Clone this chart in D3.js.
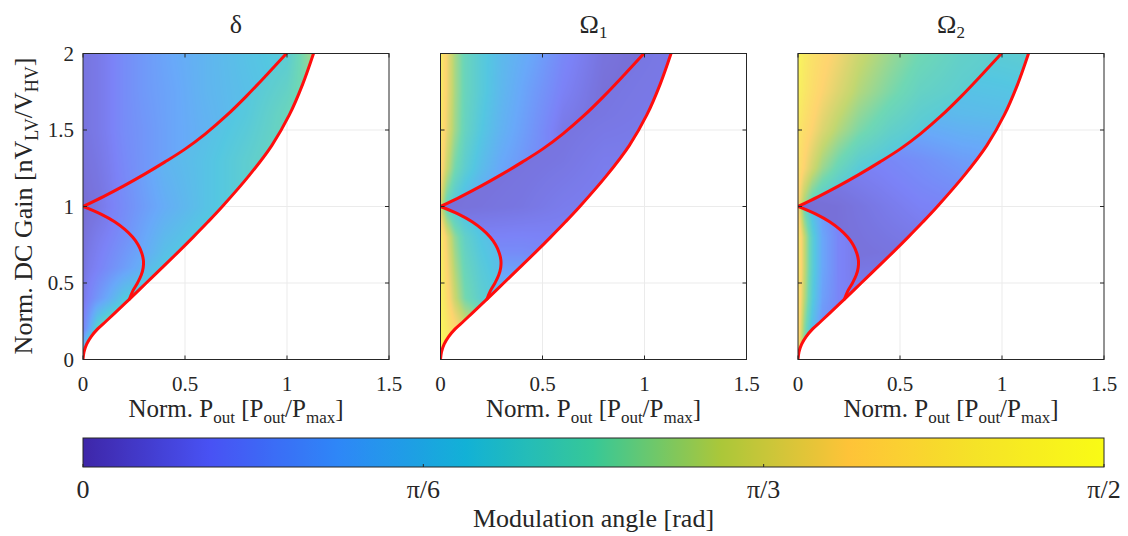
<!DOCTYPE html>
<html><head><meta charset="utf-8">
<script src="https://cdn.jsdelivr.net/npm/d3@7"></script>
<style>
body{margin:0;background:#fff;}
text{font-family:"Liberation Serif","Times New Roman",serif;fill:#262626;}
</style>
</head><body>
<svg id="chart" width="1128" height="536"></svg>
<script>
// ================= DATA =================
const xTicks = [0, 0.5, 1, 1.5];
const xTickLabels = ["0", "0.5", "1", "1.5"];
const yTicks = [0, 0.5, 1, 1.5, 2];
const yTickLabels = ["0", "0.5", "1", "1.5", "2"];
const cbTicks = [0, Math.PI / 6, Math.PI / 3, Math.PI / 2];
const cbTickLabels = ["0", "π/6", "π/3", "π/2"];
const titleBase = ["δ", "Ω", "Ω"];
const titleSub = ["", "1", "2"];

// boundaries [Norm. Pout, Norm. DC gain]
const outerBoundary = [[0,0],[0.005,0.05],[0.018,0.1],[0.04,0.15],[0.072,0.2],[0.113,0.25],[0.153,0.3],[0.232,0.4],[0.31,0.5],[0.388,0.6],[0.465,0.7],[0.54,0.8],[0.613,0.9],[0.683,1.0],[0.813,1.2],[0.926,1.4],[1.012,1.6],[1.077,1.8],[1.13,2.0]];
const upperBoundary = [[0,1],[0.1,1.065],[0.2,1.135],[0.3,1.21],[0.4,1.29],[0.5,1.375],[0.6,1.475],[0.7,1.59],[0.8,1.72],[0.9,1.86],[0.997,2.0]];
const bulgeBoundary = [[0,1],[0.088,0.95],[0.155,0.9],[0.205,0.85],[0.243,0.8],[0.27,0.75],[0.287,0.7],[0.296,0.65],[0.295,0.6],[0.285,0.55],[0.267,0.5],[0.245,0.45],[0.228,0.395]];

// sample nodes of the modulation-angle maps (degrees), rows = gain ascending
const aXs = [0, 0.03, 0.07, 0.12, 0.2, 0.3, 0.45, 0.6, 0.8, 1.0];
const aYs = [1.0, 1.25, 1.5, 1.75, 2.0];
const bXs = [0, 0.2, 0.4, 0.6, 0.8, 1.0, 1.15];
const bYs = [0.4, 0.7, 1.0, 1.3, 1.6, 2.0];
const cXs = [0, 0.03, 0.07, 0.12, 0.2, 0.3];
const cYs = [0, 0.1, 0.2, 0.4, 0.6, 0.8, 1.0];

const deltaA = [
  [4,5,6,8,12,16,21,25,30,34],
  [5,6,7,9,13,17,22,26,31,35],
  [6,7,8,10,14,17,22,26,31,35],
  [6,7,8,10,14,18,22,27,31,35],
  [7,7,8,10,14,18,23,27,32,36]];
const deltaB = [
  [20,36,40,42,44,46,48],
  [8,16,31,38,42,44,46],
  [4,14,24,32,38,42,46],
  [6,15,27,32,38,44,48],
  [7,16,26,30,35,43,50],
  [8,16,24,29,33,37,55]];
const deltaC = [
  [36,45,50,50,50,50],
  [22,44,54,55,55,55],
  [12,22,40,48,50,50],
  [8,12,17,23,34,40],
  [6,9,11,14,19,26],
  [5,7,9,11,15,20],
  [4,5,6,8,12,16]];

const omega1A = [
  [60,42,34,28,22,18,14,10,6,4],
  [72,58,46,38,30,22,15,10,6,4],
  [78,64,52,42,34,26,17,8,5,4],
  [80,66,53,43,36,28,19,11,5,4],
  [80,66,53,43,36,29,22,13,6,4]];
const omega1B = [
  [32,32,30,20,14,10,10],
  [14,14,14,12,10,9,9],
  [5,6,7,9,10,9,9],
  [5,5,6,7,9,9,9],
  [5,5,5,6,7,8,8],
  [5,5,5,5,6,7,8]];
const omega1C = [
  [88,85,80,75,70,65],
  [88,82,76,70,65,60],
  [87,78,70,62,56,52],
  [85,72,58,46,38,34],
  [83,68,54,43,36,30],
  [80,64,50,40,33,28],
  [60,42,34,30,28,26]];

const omega2A = [
  [68,52,40,34,30,28,26,24,22,20],
  [74,67,59,51,43,36,32,30,28,26],
  [77,72,67,61,54,47,40,36,32,30],
  [82,77,72,67,61,54,47,41,38,36],
  [86,79,74,70,65,58,51,45,40,38]];
const omega2B = [
  [10,10,10,10,10,10,10],
  [5,5,6,7,8,8,8],
  [4,5,8,11,12,12,12],
  [8,10,12,15,19,21,22],
  [20,22,24,27,29,30,31],
  [30,32,34,35,36,37,38]];
const omega2C = [
  [70,45,30,20,15,12],
  [72,48,28,16,12,10],
  [74,50,30,16,12,10],
  [76,56,36,20,12,9],
  [78,58,38,22,12,8],
  [78,58,38,22,12,8],
  [68,45,30,18,10,6]];

// colormap (parula)
const parulaStops = ["#3e26a8","#4852f4","#2e87f7","#12b1d6","#37c897","#abc739","#fec338","#f5e327","#f9fb15"];

// ================= RENDER =================
const svg = d3.select("#chart");
const defs = svg.append("defs");
const panelLeft = [83, 440.5, 798];
const plotTop = 53.5, plotW = 306, plotH = 306;
const ALPHA = 0.72;
const color = d3.piecewise(d3.interpolateRgb, parulaStops);
const vScale = d3.scaleLinear().domain([0, 90]).range([0, 1]).clamp(true);

const xS = d3.scaleLinear().domain([0, 1.5]).range([0, plotW]);
const yS = d3.scaleLinear().domain([0, 2]).range([plotH, 0]);
const lineCR = d3.line().x(d => xS(d[0])).y(d => yS(d[1])).curve(d3.curveCatmullRom.alpha(0.5));

// clip paths (panel-local coordinates)
defs.append("clipPath").attr("id", "clipOuter").append("path")
  .attr("d", lineCR(outerBoundary) + `L${xS(0)},${yS(2)}Z`);
defs.append("clipPath").attr("id", "clipA").append("path")
  .attr("d", lineCR(upperBoundary) + `L${xS(0)},${yS(2)}Z`);
const bulgeEnd = bulgeBoundary[bulgeBoundary.length - 1];
const cPts = outerBoundary.filter(d => d[1] < bulgeEnd[1]).concat(bulgeBoundary.slice().reverse());
defs.append("clipPath").attr("id", "clipC").append("path")
  .attr("d", lineCR(cPts) + "Z");
defs.append("clipPath").attr("id", "clipPlot").append("rect")
  .attr("x", 0).attr("y", 0).attr("width", plotW).attr("height", plotH);

function interpGrid(xs, ys, vals, x, y) {
  const cx = Math.max(xs[0], Math.min(xs[xs.length - 1], x));
  const cy = Math.max(ys[0], Math.min(ys[ys.length - 1], y));
  let i = Math.max(0, Math.min(d3.bisectRight(xs, cx) - 1, xs.length - 2));
  let j = Math.max(0, Math.min(d3.bisectRight(ys, cy) - 1, ys.length - 2));
  const tx = (cx - xs[i]) / (xs[i + 1] - xs[i]);
  const ty = (cy - ys[j]) / (ys[j + 1] - ys[j]);
  const v0 = vals[j][i] * (1 - tx) + vals[j][i + 1] * tx;
  const v1 = vals[j + 1][i] * (1 - tx) + vals[j + 1][i + 1] * tx;
  return v0 * (1 - ty) + v1 * ty;
}

function mapImage(xs, ys, vals) {
  const cv = document.createElement("canvas");
  cv.width = plotW; cv.height = plotH;
  const ctx = cv.getContext("2d");
  const img = ctx.createImageData(plotW, plotH);
  for (let py = 0; py < plotH; py++) {
    const gy = yS.invert(py + 0.5);
    for (let px = 0; px < plotW; px++) {
      const gx = xS.invert(px + 0.5);
      const v = interpGrid(xs, ys, vals, gx, gy);
      const c = d3.rgb(color(vScale(v)));
      const k = (py * plotW + px) * 4;
      img.data[k] = ALPHA * c.r + (1 - ALPHA) * 255;
      img.data[k + 1] = ALPHA * c.g + (1 - ALPHA) * 255;
      img.data[k + 2] = ALPHA * c.b + (1 - ALPHA) * 255;
      img.data[k + 3] = 255;
    }
  }
  ctx.putImageData(img, 0, 0);
  return cv.toDataURL();
}

const panels = [
  {A: deltaA, B: deltaB, C: deltaC},
  {A: omega1A, B: omega1B, C: omega1C},
  {A: omega2A, B: omega2B, C: omega2C}
];

panels.forEach((p, pi) => {
  const g = svg.append("g").attr("transform", `translate(${panelLeft[pi]},${plotTop})`);
  // faint grid
  const grid = g.append("g").attr("stroke", "#ebebeb").attr("stroke-width", 1);
  [0.5, 1].forEach(v => grid.append("line").attr("x1", xS(v)).attr("x2", xS(v)).attr("y1", 0).attr("y2", plotH));
  [0.5, 1, 1.5].forEach(v => grid.append("line").attr("y1", yS(v)).attr("y2", yS(v)).attr("x1", 0).attr("x2", plotW));

  const maps = g.append("g").attr("clip-path", "url(#clipPlot)");
  maps.append("image").attr("href", mapImage(bXs, bYs, p.B)).attr("width", plotW).attr("height", plotH)
    .attr("clip-path", "url(#clipOuter)");
  maps.append("image").attr("href", mapImage(aXs, aYs, p.A)).attr("width", plotW).attr("height", plotH)
    .attr("clip-path", "url(#clipA)");
  maps.append("image").attr("href", mapImage(cXs, cYs, p.C)).attr("width", plotW).attr("height", plotH)
    .attr("clip-path", "url(#clipC)");

  // red boundaries
  const red = g.append("g").attr("fill", "none").attr("stroke", "#ff0d0d").attr("stroke-width", 3)
    .attr("stroke-linejoin", "round").attr("stroke-linecap", "round").attr("clip-path", "url(#clipPlot)");
  [outerBoundary, upperBoundary, bulgeBoundary].forEach(b => red.append("path").attr("d", lineCR(b)));

  // box and ticks
  g.append("rect").attr("width", plotW).attr("height", plotH).attr("fill", "none")
    .attr("stroke", "#262626").attr("stroke-width", 1);
  const tk = g.append("g").attr("stroke", "#262626").attr("stroke-width", 1);
  xTicks.forEach(v => {
    tk.append("line").attr("x1", xS(v)).attr("x2", xS(v)).attr("y1", plotH).attr("y2", plotH - 4);
    tk.append("line").attr("x1", xS(v)).attr("x2", xS(v)).attr("y1", 0).attr("y2", 4);
  });
  yTicks.forEach(v => {
    tk.append("line").attr("y1", yS(v)).attr("y2", yS(v)).attr("x1", 0).attr("x2", 4);
    tk.append("line").attr("y1", yS(v)).attr("y2", yS(v)).attr("x1", plotW).attr("x2", plotW - 4);
  });
  // x tick labels
  xTicks.forEach((v, i) => g.append("text").attr("x", xS(v)).attr("y", plotH + 31)
    .attr("text-anchor", "middle").attr("font-size", 21).text(xTickLabels[i]));
  if (pi === 0) {
    yTicks.forEach((v, i) => g.append("text").attr("x", -9).attr("y", yS(v)).attr("dy", "0.35em")
      .attr("text-anchor", "end").attr("font-size", 21).text(yTickLabels[i]));
  }
  // title
  const t = g.append("text").attr("x", plotW / 2).attr("y", -21).attr("text-anchor", "middle").attr("font-size", 26);
  t.append("tspan").text(titleBase[pi]);
  if (titleSub[pi]) t.append("tspan").attr("font-size", 17).attr("dy", 5).text(titleSub[pi]);
  // x label
  const xl = g.append("text").attr("x", plotW / 2).attr("y", 417 - plotTop).attr("text-anchor", "middle").attr("font-size", 25);
  xl.append("tspan").text("Norm. P");
  xl.append("tspan").attr("font-size", 17).attr("dy", 6).text("out");
  xl.append("tspan").attr("dy", -6).text(" [P");
  xl.append("tspan").attr("font-size", 17).attr("dy", 6).text("out");
  xl.append("tspan").attr("dy", -6).text("/P");
  xl.append("tspan").attr("font-size", 17).attr("dy", 6).text("max");
  xl.append("tspan").attr("dy", -6).text("]");
});

// y label
const yl = svg.append("text").attr("transform", "translate(32,206) rotate(-90)")
  .attr("text-anchor", "middle").attr("font-size", 26);
yl.append("tspan").text("Norm. DC Gain [nV");
yl.append("tspan").attr("font-size", 18).attr("dy", 6).text("LV");
yl.append("tspan").attr("dy", -6).text("/V");
yl.append("tspan").attr("font-size", 18).attr("dy", 6).text("HV");
yl.append("tspan").attr("dy", -6).text("]");

// colorbar
const cbX = d3.scaleLinear().domain([0, Math.PI / 2]).range([83, 1104]);
const cbTop = 438, cbH = 29;
const grad = defs.append("linearGradient").attr("id", "cbGrad").attr("x1", "0%").attr("x2", "100%");
d3.range(0, 1.0001, 1 / 64).forEach(s => grad.append("stop").attr("offset", (s * 100) + "%").attr("stop-color", color(s)));
svg.append("rect").attr("x", cbX(0)).attr("y", cbTop).attr("width", cbX(Math.PI / 2) - cbX(0)).attr("height", cbH)
  .attr("fill", "url(#cbGrad)").attr("stroke", "#262626").attr("stroke-width", 1);
cbTicks.forEach((v, i) => {
  svg.append("line").attr("x1", cbX(v)).attr("x2", cbX(v)).attr("y1", cbTop + cbH).attr("y2", cbTop + cbH - 3)
    .attr("stroke", "#262626");
  svg.append("text").attr("x", cbX(v)).attr("y", 498).attr("text-anchor", "middle").attr("font-size", 26).text(cbTickLabels[i]);
});
svg.append("text").attr("x", (cbX(0) + cbX(Math.PI / 2)) / 2).attr("y", 527).attr("text-anchor", "middle")
  .attr("font-size", 26).text("Modulation angle [rad]");
</script>
</body></html>
